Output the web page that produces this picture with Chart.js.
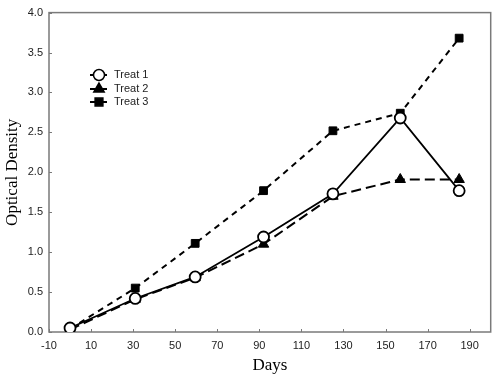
<!DOCTYPE html>
<html>
<head>
<meta charset="utf-8">
<script src="https://cdn.jsdelivr.net/npm/chart.js@4.4.0/dist/chart.umd.min.js"></script>
<style>
  html, body { margin: 0; padding: 0; background: #fff; }
  #wrap { width: 498px; height: 378px; }
</style>
</head>
<body>
<div id="wrap"><canvas id="chart"></canvas></div>
<script>
// values
const days = [0, 31, 59.5, 92, 125, 157, 185];
const treat1 = [0.05, 0.42, 0.69, 1.19, 1.73, 2.68, 1.77];
const treat2 = [0.03, 0.41, 0.68, 1.10, 1.70, 1.91, 1.91];
const treat3 = [0.04, 0.55, 1.11, 1.77, 2.52, 2.74, 3.68];
const xTicks = [-10, 10, 30, 50, 70, 90, 110, 130, 150, 170, 190];
const yTicks = [0, 0.5, 1, 1.5, 2, 2.5, 3, 3.5, 4];
const seriesNames = ['Treat 1', 'Treat 2', 'Treat 3'];

const pts = (ys) => days.map((d, i) => ({ x: d, y: ys[i] }));
const axisGray = '#7a7a7a';

// frame round the plot, inward ticks and the inset legend
const framePlugin = {
  id: 'frame',
  beforeDatasetsDraw(chart) {
    const { ctx, chartArea: a, scales } = chart;
    ctx.save();
    ctx.strokeStyle = axisGray;
    ctx.lineWidth = 1.5;
    ctx.strokeRect(a.left, a.top, a.right - a.left, a.bottom - a.top);
    ctx.lineWidth = 1;
    ctx.beginPath();
    xTicks.forEach(v => {
      const px = Math.round(scales.x.getPixelForValue(v)) + 0.5;
      ctx.moveTo(px, a.bottom); ctx.lineTo(px, a.bottom - 3);
    });
    yTicks.forEach(v => {
      const py = Math.round(scales.y.getPixelForValue(v)) + 0.5;
      ctx.moveTo(a.left, py); ctx.lineTo(a.left + 3, py);
    });
    ctx.stroke();
    ctx.restore();
  },
  afterDraw(chart) {
    const { ctx } = chart;
    const rows = [75, 89, 102];
    ctx.save();
    chart.data.datasets.forEach((ds, i) => {
      const y = rows[i];
      ctx.strokeStyle = '#000';
      ctx.fillStyle = '#000';
      ctx.lineWidth = 2;
      ctx.setLineDash([]);
      ctx.beginPath();
      ctx.moveTo(90, y); ctx.lineTo(107, y);
      ctx.stroke();
      ctx.lineWidth = 1.5;
      ctx.fillStyle = ds.pointBackgroundColor;
      Chart.helpers.drawPoint(ctx, {
        pointStyle: ds.pointStyle, radius: ds.pointRadius, rotation: 0, borderWidth: 1.5
      }, 99, y);
      ctx.fillStyle = '#222';
      ctx.font = '11px "Liberation Sans", Arial, sans-serif';
      ctx.textBaseline = 'middle';
      ctx.textAlign = 'left';
      ctx.fillText(ds.label, 114, y);
    });
    ctx.restore();
  }
};

new Chart(document.getElementById('chart'), {
  type: 'line',
  data: {
    datasets: [
      {
        label: seriesNames[0],
        data: pts(treat1),
        borderColor: '#000',
        borderWidth: 1.8,
        pointStyle: 'circle',
        pointRadius: 5.5,
        pointBackgroundColor: '#fff',
        pointBorderColor: '#000',
        pointBorderWidth: 1.8
      },
      {
        label: seriesNames[1],
        data: pts(treat2),
        borderColor: '#000',
        borderWidth: 2,
        borderDash: [10, 5],
        pointStyle: 'triangle',
        pointRadius: 6,
        pointBackgroundColor: '#000',
        pointBorderColor: '#000',
        pointBorderWidth: 1
      },
      {
        label: seriesNames[2],
        data: pts(treat3),
        borderColor: '#000',
        borderWidth: 2,
        borderDash: [6, 5],
        pointStyle: 'rect',
        pointRadius: 5.5,
        pointBackgroundColor: '#000',
        pointBorderColor: '#000',
        pointBorderWidth: 1
      }
    ]
  },
  options: {
    responsive: true,
    maintainAspectRatio: false,
    animation: false,
    layout: { padding: { top: 11, right: 4, left: 0, bottom: 0 } },
    plugins: {
      legend: { display: false },
      tooltip: { enabled: false }
    },
    scales: {
      x: {
        type: 'linear',
        min: -10,
        max: 200,
        afterBuildTicks: (axis) => { axis.ticks = xTicks.map(v => ({ value: v })); },
        afterFit: (axis) => { axis.height = 46; },
        grid: { display: false, drawTicks: false },
        border: { display: false },
        ticks: {
          padding: 7,
          color: '#222',
          font: { family: '"Liberation Sans", Arial, sans-serif', size: 11 },
          maxRotation: 0,
          autoSkip: false
        },
        title: {
          display: true,
          text: 'Days',
          color: '#000',
          padding: { top: 0, bottom: 2 },
          font: { family: '"Liberation Serif", "Times New Roman", serif', size: 17 }
        }
      },
      y: {
        min: 0,
        max: 4,
        afterBuildTicks: (axis) => { axis.ticks = yTicks.map(v => ({ value: v })); },
        afterFit: (axis) => { axis.width = 49; },
        grid: { display: false, drawTicks: false },
        border: { display: false },
        ticks: {
          padding: 6,
          color: '#222',
          font: { family: '"Liberation Sans", Arial, sans-serif', size: 11 },
          callback: (v) => Number(v).toFixed(1)
        },
        title: {
          display: true,
          text: 'Optical Density',
          color: '#000',
          padding: { top: 2, bottom: 0 },
          font: { family: '"Liberation Serif", "Times New Roman", serif', size: 17 }
        }
      }
    }
  },
  plugins: [framePlugin]
});
</script>
</body>
</html>
